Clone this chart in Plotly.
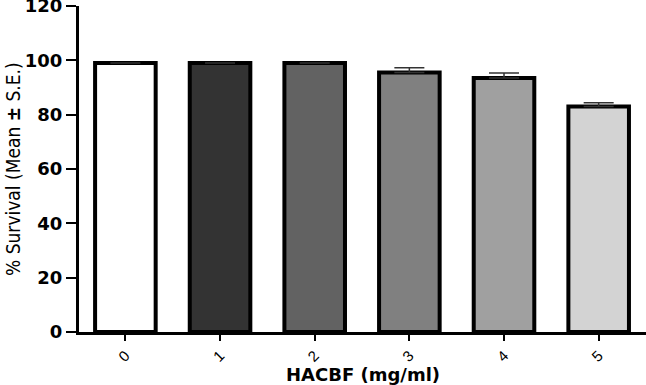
import plotly.graph_objects as go

categories = ["0", "1", "2", "3", "4", "5"]
survival = [99, 99, 99, 95.5, 93.5, 83]
se = [0, 0, 0, 1.8, 1.8, 1.4]
fill_colors = ["#ffffff", "#333333", "#626262", "#808080", "#a0a0a0", "#d3d3d3"]
y_ticks = [0, 20, 40, 60, 80, 100, 120]

fig = go.Figure()
fig.add_trace(go.Bar(
    x=list(range(len(categories))),
    y=survival,
    marker=dict(color=fill_colors, line=dict(color="black", width=4)),
    width=0.64,
    error_y=dict(type="data", array=se, arrayminus=[0]*len(se), symmetric=False,
                 visible=True, color="#333333", thickness=1.5, width=15),
))

font_family = "Arial, Liberation Sans, sans-serif"
fig.update_layout(
    width=646, height=385,
    margin=dict(l=79, r=0, t=6, b=53),
    plot_bgcolor="white", paper_bgcolor="white",
    showlegend=False,
    font=dict(family=font_family, color="black"),
)
fig.update_xaxes(
    range=[-0.49, 5.5], automargin=False,
    tickmode="array", tickvals=list(range(len(categories))), ticktext=categories,
    tickangle=-45, tickfont=dict(size=15),
    showline=True, linecolor="black", linewidth=3,
    ticks="outside", ticklen=6, tickwidth=2, tickcolor="black",
    showgrid=False, zeroline=False,
)
fig.update_yaxes(
    range=[0, 120], automargin=False, ticklabeloverflow="allow",
    tickmode="array", tickvals=y_ticks, ticktext=[f"<b>{v}</b>" for v in y_ticks],
    tickfont=dict(size=18, family="DejaVu Sans, Arial, sans-serif"),
    showline=True, linecolor="black", linewidth=3,
    ticks="outside", ticklen=10, tickwidth=2, tickcolor="black",
    showgrid=False, zeroline=False,
)
fig.add_annotation(
    text="<b>HACBF (mg/ml)</b>", xref="paper", yref="paper",
    x=0.5, y=-(375 - 332) / 326, yanchor="middle", xanchor="center",
    showarrow=False, font=dict(size=18, family="DejaVu Sans, Arial, sans-serif"),
)
fig.add_annotation(
    text="% Survival (Mean <b>±</b> S.E.)", xref="paper", yref="paper",
    x=-(79 - 13) / 567, y=0.5, xanchor="center", yanchor="middle",
    textangle=-90, showarrow=False,
    font=dict(size=19, family="DejaVu Sans Condensed, Liberation Sans Narrow, Liberation Sans, sans-serif"),
)

fig.write_html("out.html", config={"displayModeBar": False},
               post_script="document.body.style.margin='0';document.body.style.overflow='hidden';")
